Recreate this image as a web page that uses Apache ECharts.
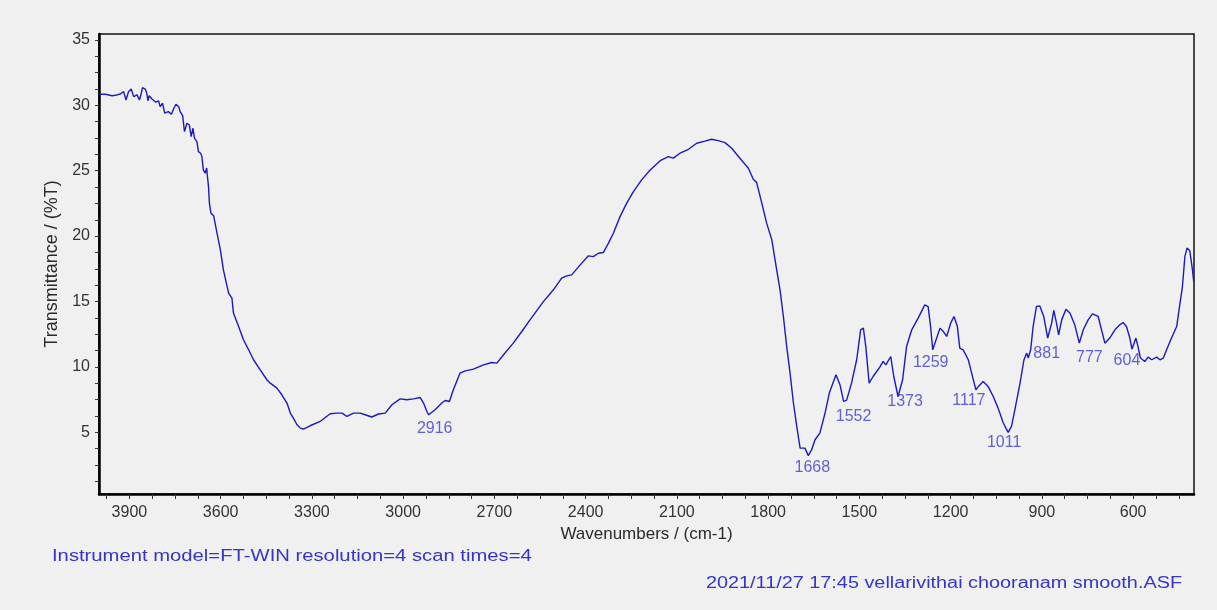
<!DOCTYPE html>
<html>
<head>
<meta charset="utf-8">
<title>FT-IR spectrum</title>
<script src="https://cdn.jsdelivr.net/npm/echarts@6/dist/echarts.min.js"></script>
<style>
  html, body { margin: 0; padding: 0; background: #f0f0f0; }
  #chart { width: 1217px; height: 610px; }
</style>
</head>
<body>
<div id="chart"></div>
<script>
// Spectrum: wavenumber (cm-1) and transmittance (%T), high to low wavenumber
const wavenumbers = [
  4000, 3979, 3957, 3946, 3930, 3919, 3911, 3903, 3894, 3886, 3875, 3867, 3861, 3857, 3848, 3843,
  3839, 3835, 3826, 3821, 3813, 3804, 3799, 3791, 3784, 3772, 3762, 3754, 3747, 3738, 3733, 3725,
  3719, 3711, 3703, 3697, 3691, 3686, 3678, 3673, 3666, 3662, 3657, 3651, 3646, 3644, 3640, 3637,
  3632, 3623, 3612, 3601, 3591, 3574, 3563, 3558, 3541, 3525, 3508, 3492, 3470, 3448, 3437, 3415,
  3399, 3382, 3371, 3361, 3349, 3338, 3328, 3306, 3273, 3240, 3218, 3201, 3185, 3163, 3141, 3125,
  3103, 3081, 3059, 3037, 3010, 2988, 2966, 2944, 2933, 2922, 2916, 2895, 2873, 2862, 2848, 2835,
  2813, 2796, 2769, 2736, 2709, 2692, 2670, 2638, 2610, 2583, 2539, 2506, 2479, 2462, 2446, 2418,
  2391, 2375, 2358, 2342, 2325, 2309, 2287, 2265, 2243, 2216, 2188, 2155, 2128, 2112, 2090, 2062,
  2035, 2008, 1986, 1964, 1942, 1920, 1893, 1865, 1849, 1838, 1821, 1805, 1788, 1772, 1761, 1750,
  1739, 1728, 1717, 1706, 1695, 1679, 1668, 1657, 1646, 1630, 1613, 1599, 1577, 1564, 1552, 1542,
  1526, 1509, 1496, 1487, 1479, 1468, 1455, 1433, 1422, 1413, 1397, 1387, 1373, 1358, 1345, 1328,
  1307, 1285, 1274, 1266, 1259, 1246, 1235, 1224, 1213, 1200, 1189, 1178, 1170, 1159, 1142, 1131,
  1117, 1109, 1093, 1077, 1060, 1044, 1027, 1011, 1000, 989, 972, 959, 950, 945, 937, 929,
  918, 907, 894, 881, 868, 861, 852, 845, 835, 821, 808, 792, 777, 764, 748, 734,
  715, 704, 693, 677, 660, 644, 633, 622, 611, 604, 591, 584, 576, 562, 551, 539,
  523, 512, 501, 490, 474, 457, 446, 438, 430, 423, 414, 405, 401
];

const transmittance = [
  30.85, 30.85, 30.74, 30.77, 30.87, 31.05, 30.41, 31.05, 31.25, 30.67, 30.80, 30.41, 30.93, 31.35, 31.25, 30.95,
  30.34, 30.74, 30.49, 30.54, 30.24, 30.34, 29.90, 30.16, 29.40, 29.52, 29.32, 29.78, 30.08, 29.90, 29.52, 29.21,
  27.99, 28.63, 28.50, 27.61, 28.25, 27.48, 27.23, 26.46, 26.34, 26.13, 25.06, 24.81, 25.21, 24.68, 23.78, 22.52,
  21.75, 21.55, 20.22, 18.95, 17.42, 15.64, 15.25, 14.11, 13.08, 12.07, 11.30, 10.54, 9.77, 9.01, 8.75, 8.37,
  7.86, 7.23, 6.46, 6.08, 5.57, 5.31, 5.24, 5.49, 5.82, 6.41, 6.46, 6.46, 6.20, 6.46, 6.46, 6.33,
  6.16, 6.39, 6.46, 7.10, 7.55, 7.48, 7.55, 7.65, 7.23, 6.58, 6.33, 6.71, 7.23, 7.42, 7.35, 8.24,
  9.52, 9.69, 9.82, 10.15, 10.33, 10.28, 10.92, 11.81, 12.70, 13.59, 14.99, 15.89, 16.78, 16.96, 17.03, 17.80,
  18.49, 18.43, 18.69, 18.74, 19.46, 20.22, 21.49, 22.52, 23.40, 24.30, 25.06, 25.77, 26.08, 25.96, 26.34, 26.64,
  27.10, 27.26, 27.41, 27.30, 27.15, 26.72, 25.96, 25.19, 24.35, 24.11, 22.52, 20.99, 19.71, 17.42, 15.89, 13.85,
  11.55, 9.52, 7.23, 5.44, 3.78, 3.78, 3.20, 3.66, 4.42, 4.93, 6.46, 7.99, 9.39, 8.63, 7.35, 7.45,
  8.75, 10.54, 12.83, 12.96, 11.55, 8.75, 9.26, 9.98, 10.41, 10.15, 10.79, 9.26, 7.73, 9.01, 11.55, 12.83,
  13.72, 14.74, 14.61, 13.08, 11.30, 12.20, 12.96, 12.70, 12.32, 13.34, 13.85, 13.08, 11.43, 11.30, 10.54, 9.52,
  8.24, 8.50, 8.88, 8.50, 7.73, 6.84, 5.70, 4.98, 5.44, 6.71, 8.75, 10.54, 11.05, 10.67, 11.30, 13.08,
  14.61, 14.66, 13.85, 12.20, 13.34, 14.31, 13.34, 12.45, 13.59, 14.41, 14.11, 13.21, 11.81, 12.83, 13.59, 14.05,
  13.85, 12.83, 11.81, 12.20, 12.83, 13.21, 13.39, 13.08, 12.20, 11.35, 12.20, 11.55, 10.67, 10.41, 10.74, 10.54,
  10.74, 10.54, 10.67, 11.30, 12.20, 13.08, 14.87, 16.14, 18.43, 19.08, 18.89, 17.42, 16.52
];

// Labelled absorption bands (cm-1)
const peakWavenumbers = [2916, 1668, 1552, 1373, 1259, 1117, 1011, 881, 777, 604];

// Axis tick labels
const xTickLabels = [3900, 3600, 3300, 3000, 2700, 2400, 2100, 1800, 1500, 1200, 900, 600];
const yTickLabels = [5, 10, 15, 20, 25, 30, 35];

const instrumentText = 'Instrument model=FT-WIN resolution=4 scan times=4';
const fileText = '2021/11/27 17:45 vellarivithai chooranam smooth.ASF';

// Label placement next to each band minimum, in pixels
const peakLabelOffsets = {
  2916: [6, 14], 1668: [4, 12], 1552: [10, 15], 1373: [7, 5], 1259: [-2, 13],
  1117: [-7, 11], 1011: [-4, 10], 881: [-1, 16], 777: [10, 14], 604: [-5, 11]
};

const spectrum = wavenumbers.map((w, i) => [w, transmittance[i]]);
const peaks = peakWavenumbers.map(w => [w, transmittance[wavenumbers.indexOf(w)]]);

// Minor ticks: four divisions per labelled interval on both axes
const xTicks = [];
for (let w = 3975; w >= 450; w -= 75) xTicks.push(w);
const yTicks = [];
for (let t = 1.25; t <= 35; t += 1.25) yTicks.push(t);

const chart = echarts.init(document.getElementById('chart'), null, { renderer: 'canvas' });

const LINE_BLUE = '#1a1abf';
const TEXT_BLUE = '#3535c8';
const SANS = '"Liberation Sans", Arial, sans-serif';

chart.setOption({
  backgroundColor: '#f0f0f0',
  animation: false,
  grid: {
    left: 99, right: 23, top: 34, bottom: 116,
    show: true, borderColor: '#111', borderWidth: 1.5, backgroundColor: 'transparent',
    containLabel: false, outerBoundsMode: 'none'
  },
  xAxis: {
    type: 'value', min: 400, max: 4000, inverse: true,
    name: 'Wavenumbers / (cm-1)', nameLocation: 'middle', nameGap: 28,
    nameTextStyle: { fontFamily: SANS, fontSize: 17, color: '#2a2a2a' },
    axisLine: { show: true, onZero: false, lineStyle: { color: '#000', width: 2.5 } },
    axisTick: { show: true, customValues: xTicks, length: 5, lineStyle: { color: '#333', width: 1 } },
    axisLabel: {
      customValues: xTickLabels, margin: 11, formatter: v => String(v),
      fontFamily: SANS, fontSize: 16, color: '#333'
    },
    splitLine: { show: false }
  },
  yAxis: {
    type: 'value', min: 0.27, max: 35.46, position: 'left',
    name: 'Transmittance / (%T)', nameLocation: 'middle', nameGap: 36,
    nameTextStyle: { fontFamily: '"Liberation Sans Narrow", "Liberation Sans", sans-serif', fontSize: 18, color: '#2a2a2a' },
    axisLine: { show: true, onZero: false, lineStyle: { color: '#000', width: 2.5 } },
    axisTick: { show: true, customValues: yTicks, length: 4, lineStyle: { color: '#333', width: 1 } },
    axisLabel: {
      customValues: yTickLabels, margin: 9, formatter: v => String(v),
      fontFamily: SANS, fontSize: 16, color: '#333'
    },
    splitLine: { show: false }
  },
  series: [
    {
      type: 'line',
      data: spectrum,
      showSymbol: false,
      silent: true,
      lineStyle: { color: LINE_BLUE, width: 1.4 },
      z: 3
    },
    {
      type: 'scatter',
      data: peaks,
      symbolSize: 1,
      silent: true,
      itemStyle: { color: 'transparent' },
      label: {
        show: true,
        position: 'inside',
        formatter: p => String(p.value[0]),
        fontFamily: SANS, fontSize: 16, color: '#3b3bcf'
      },
      labelLayout: p => {
        const w = peakWavenumbers[p.dataIndex];
        const off = peakLabelOffsets[w] || [0, 12];
        return { dx: off[0], dy: off[1] };
      },
      z: 4
    }
  ],
  graphic: [
    {
      type: 'text', x: 52, y: 549, scaleX: 1.265,
      style: { text: instrumentText, font: '16px ' + SANS, fill: TEXT_BLUE, align: 'left', verticalAlign: 'top' }
    },
    {
      type: 'text', x: 1182, y: 576, scaleX: 1.24,
      style: { text: fileText, font: '16px ' + SANS, fill: TEXT_BLUE, align: 'right', verticalAlign: 'top' }
    }
  ]
});
</script>
</body>
</html>
